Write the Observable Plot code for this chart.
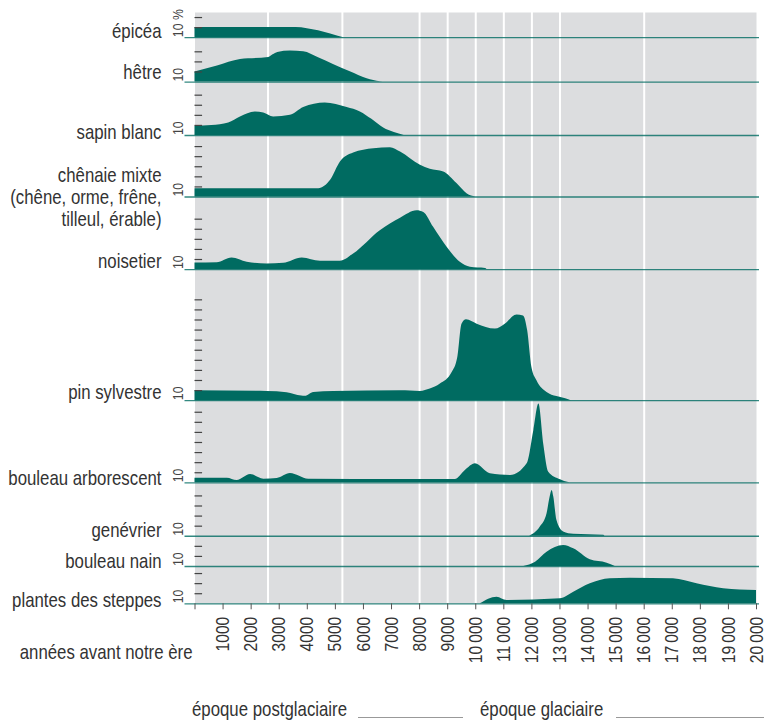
<!DOCTYPE html>
<html>
<head>
<meta charset="utf-8">
<script src="https://cdn.jsdelivr.net/npm/d3@7"></script>
<script src="https://cdn.jsdelivr.net/npm/@observablehq/plot@0.6"></script>
<style>
  body { margin: 0; background: #fff; }
  #chart svg, #caption svg { display: block; }
</style>
</head>
<body>
<div id="chart"></div>
<div id="caption"></div>
<script>
// ---------- data (years before present, pollen %) ----------
const species = [
  "épicéa",
  "hêtre",
  "sapin blanc",
  "chênaie mixte\n(chêne, orme, frêne,\ntilleul, érable)",
  "noisetier",
  "pin sylvestre",
  "bouleau arborescent",
  "genévrier",
  "bouleau nain",
  "plantes des steppes"
];

const epicea = [[0,10],[1000,10.2],[2000,10.2],[3000,10.2],[3600,10],[4000,9],[4400,7],[4800,4],[5100,1.5],[5300,0]];
const hetre = [[0,10],[800,16],[1620,22.4],[2630,24.4],[2780,27],[2950,29.4],[3400,30.7],[3870,30],[4400,24],[4930,17.5],[5530,10.2],[6130,3.3],[6600,0.3],[6800,0]];
const sapin = [[0,9.2],[600,10],[1200,12.5],[1620,18.4],[2150,23.4],[2450,22.4],[2800,18.4],[3400,20],[3870,27.7],[4640,32.3],[5420,27.7],[5890,23.4],[6300,16],[6720,7.5],[7100,3],[7450,0]];
const chenaie = [[0,8.3],[4410,8.3],[4830,16.5],[5180,34.7],[5650,43.6],[6370,47.9],[6960,48.9],[7320,44.6],[8030,31.4],[8380,27.4],[8860,24.8],[9330,13.3],[9700,3],[10000,0]];
const noisetier = [[0,6.6],[790,6.9],[1320,11.6],[1860,7.3],[2570,5.6],[3160,6.3],[3820,11.6],[4470,8.3],[5180,8.3],[5650,15.5],[6600,38.6],[7320,51],[7910,58.4],[8150,56.7],[8500,41.9],[8980,22.1],[9450,7.2],[9810,2.3],[10350,1],[10400,0]];
const pin = [[0,9.9],[2570,9.2],[3280,7.9],[3800,4.5],[3930,4.3],[4230,8.2],[4940,9],[7320,9.9],[8030,9.2],[8380,11.5],[8740,16.5],[9160,28],[9360,42.9],[9510,75.9],[9670,80.2],[10050,75.9],[10700,71],[11050,75.9],[11470,85],[11700,84],[11850,69.3],[12000,33],[12180,19.8],[12540,8.2],[12890,4],[13310,1],[13400,0]];
const bouleauArb = [[0,4.6],[1150,4.6],[1500,2.3],[1980,8.2],[2450,3.6],[2930,4.3],[3400,9.2],[4050,3.6],[7320,3.3],[9270,3.3],[9630,12.2],[9990,18.8],[10520,8.9],[11240,7.2],[11830,18.8],[12070,51.8],[12250,78.2],[12420,38.6],[12600,10.5],[13020,3],[13310,0.3],[13400,0]];
const genevrier = [[11920,0],[12300,9.2],[12540,22.4],[12650,38.9],[12720,45.5],[12780,38.9],[12890,15.8],[13130,4.3],[13490,2],[14560,1],[14600,0]];
const bouleauNain = [[11710,0],[12130,4.3],[12540,14.2],[13130,20.8],[13490,17.5],[14080,6.6],[14680,3.3],[14970,0]];
const steppes = [[10160,0],[10760,6.6],[11110,3.3],[13010,5],[13490,11.5],[14080,19.8],[14790,24.8],[15500,25.3],[17040,24.8],[17880,19.8],[18830,14.9],[20000,13.2]];

const series = [epicea, hetre, sapin, chenaie, noisetier, pin, bouleauArb, genevrier, bouleauNain, steppes];

// number of 10 % ticks shown per row
const tickCounts = [2, 3, 4, 5, 5, 10, 7, 4, 2, 3];
// x-axis ticks and period boundaries
const xTicks = d3.range(0, 20001, 1000);
const periodBounds = [2600, 5250, 8000, 9000, 10000, 11000, 12000, 13000, 16000];

const axisTitle = "années avant notre ère";
const periodLabels = ["époque postglaciaire", "époque glaciaire"];

// ---------- layout (in % units, not data) ----------
const rowSpan = [25, 44, 53, 61, 72, 130, 81.5, 53, 30, 37];
const labelLift = [7, 10, 4, 0, 9, 9, 5, 6, 6, 4];

const total = d3.sum(rowSpan);
const bases = rowSpan.map((_, i) => d3.sum(rowSpan.slice(i + 1)));

const teal = "#006b61";
const font = "'Liberation Sans', Arial, sans-serif";
const narrow = 0.82; // horizontal condensing of all text

const rows = species.map((name, i) => ({
  name, idx: i, base: bases[i], lift: labelLift[i], ticks: tickCounts[i]
}));

const areaData = rows.flatMap(r => series[r.idx].map(([year, v]) => ({
  species: r.name, year, y1: r.base, y2: r.base + v
})));

const tickData = rows.flatMap(r => d3.range(1, r.ticks + 1).map(k => ({y: r.base + 10 * k})));

const fmt = d => d === 0 ? "" : (d >= 10000 ? d3.format(",")(d).replace(",", "\u2009") : String(d));

const chart = Plot.plot({
  width: 764,
  height: 692,
  marginLeft: 194.5,
  marginRight: 8,
  marginTop: 12,
  marginBottom: 88.7,
  style: {fontFamily: font, background: "#fff", overflow: "visible"},
  x: {domain: [0, 20000]},
  y: {domain: [0, total], axis: null},
  marks: [
    Plot.frame({fill: "#dcdddf", stroke: null}),
    Plot.ruleX(periodBounds, {stroke: "#fff", strokeWidth: 2}),
    Plot.areaY(areaData, {x: "year", y1: "y1", y2: "y2", z: "species", fill: teal, curve: "monotone-x"}),
    Plot.ruleY(rows, {y: "base", stroke: teal, strokeWidth: 1.3, strokeOpacity: 0.8, insetLeft: -10, insetRight: -3}),
    Plot.ruleY(tickData, {y: "y", x1: 0, x2: 270, stroke: "#444", strokeWidth: 1.2}),
    Plot.text(rows, {
      y: d => d.base + 0.5, frameAnchor: "left", dx: -16.5, rotate: -90,
      textAnchor: "start", lineAnchor: "middle",
      text: d => d.idx === 0 ? "10 %" : "10", fontSize: 15, fill: "#444"
    }),
    Plot.text(rows, {
      y: d => d.base + d.lift, frameAnchor: "left", dx: -33.5,
      textAnchor: "end", lineAnchor: "middle",
      text: "name", fontSize: 20.5, fill: "#333", lineHeight: 1.08
    }),
    Plot.text([axisTitle], {
      frameAnchor: "bottom-left", dx: -2.5, dy: 48.7,
      textAnchor: "end", lineAnchor: "middle", fontSize: 20.5, fill: "#333"
    }),
    Plot.axisX({
      ticks: xTicks, tickFormat: fmt, tickRotate: -90, tickSize: 6, tickPadding: 7,
      fontSize: 19, stroke: "#555", fill: "#333", label: null
    })
  ]
});
document.getElementById("chart").appendChild(chart);

// ---------- caption below the chart ----------
const cap = d3.select("#caption").append("svg")
  .attr("width", 764).attr("height", 28)
  .style("font-family", font);
cap.append("text").attr("transform", "translate(192,24)").attr("font-size", 20.5).attr("fill", "#333").text(periodLabels[0]);
cap.append("line").attr("x1", 358).attr("x2", 463).attr("y1", 25.5).attr("y2", 25.5).attr("stroke", "#999").attr("stroke-width", 1);
cap.append("text").attr("transform", "translate(480,24)").attr("font-size", 20.5).attr("fill", "#333").text(periodLabels[1]);
cap.append("line").attr("x1", 616).attr("x2", 764).attr("y1", 25.5).attr("y2", 25.5).attr("stroke", "#999").attr("stroke-width", 1);

// condense every text horizontally (narrow sans look of the original)
document.querySelectorAll("svg text").forEach(t => {
  const tr = t.getAttribute("transform");
  if (tr) {
    t.setAttribute("transform", `${tr} scale(${narrow},1)`);
  } else {
    const x = +(t.getAttribute("x") || 0), y = +(t.getAttribute("y") || 0);
    t.removeAttribute("x"); t.removeAttribute("y");
    t.setAttribute("transform", `translate(${x},${y}) scale(${narrow},1)`);
  }
});
</script>
</body>
</html>
